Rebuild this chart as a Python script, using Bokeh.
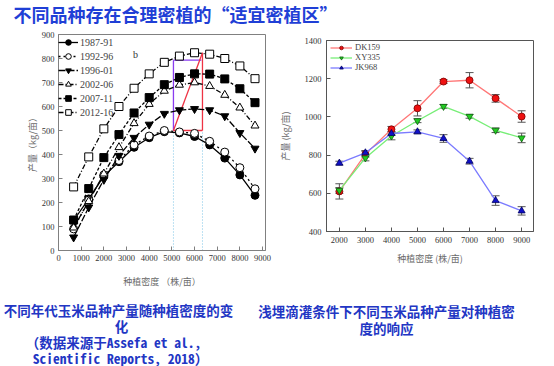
from bokeh.plotting import figure
from bokeh.layouts import column, row
from bokeh.models import (Range1d, Legend, LegendItem, Whisker, TeeHead,
                          ColumnDataSource, FixedTicker)
from bokeh.core.properties import value
from bokeh.embed import file_html
from bokeh.resources import INLINE

# ---------------- data ----------------
page_title = "不同品种存在合理密植的“适宜密植区”"

# left panel (Assefa et al. 2018)
density_left = [667, 1333, 2000, 2667, 3333, 4000, 4667, 5333, 6000, 6667, 7333, 8000, 8667]
era_labels = ["1987-91", "1992-96", "1996-01", "2002-06", "2007-11", "2012-16"]
y1987 = [125, 215, 310, 370, 430, 470, 495, 490, 475, 440, 385, 315, 230]
y1992 = [90, 210, 315, 375, 440, 477, 500, 494, 488, 455, 410, 345, 257]
y1996 = [55, 180, 295, 395, 470, 525, 570, 585, 590, 585, 560, 490, 425]
y2002 = [95, 205, 320, 430, 530, 610, 665, 690, 700, 685, 648, 595, 520]
y2007 = [127, 258, 387, 483, 573, 637, 691, 721, 736, 735, 715, 674, 616]
y2012 = [265, 390, 507, 600, 676, 736, 784, 810, 824, 818, 800, 769, 716]
left_xticks = [0, 1000, 2000, 3000, 4000, 5000, 6000, 7000, 8000, 9000]
left_yticks = [0, 100, 200, 300, 400, 500, 600, 700, 800, 900]
zone_x = [5070, 6350]
zone_y = [500, 793, 824]
panel_tag = "b"

# right panel
density_right = [2000, 3000, 4000, 5000, 6000, 7000, 8000, 9000]
dk159 = [610, 805, 935, 1045, 1185, 1192, 1097, 1002]
dk159_err = [40, 15, 15, 40, 10, 40, 20, 30]
xy335 = [615, 785, 900, 980, 1055, 1003, 930, 890]
xy335_err = [15, 15, 20, 10, 10, 10, 12, 25]
jk968 = [758, 812, 913, 922, 887, 768, 562, 508]
jk968_err = [10, 12, 10, 10, 20, 15, 25, 22]
right_xticks = [2000, 3000, 4000, 5000, 6000, 7000, 8000, 9000]
right_yticks = [400, 600, 800, 1000, 1200, 1400]

caption_left = ["不同年代玉米品种产量随种植密度的变", "化",
                "（数据来源于Assefa et al.,", "Scientific Reports, 2018）"]
caption_right = ["浅埋滴灌条件下不同玉米品种产量对种植密", "度的响应"]

BLUE = "#1f3fd6"
CAP_BLUE = "#2236c4"
CJK = "Noto Sans CJK SC"
SERIF = "Liberation Serif"


def text_fig(w, h, y0):
    f = figure(width=w, height=h, x_range=Range1d(0, w), y_range=Range1d(y0 + h, y0),
               x_axis_type=None, y_axis_type=None, toolbar_location=None,
               output_backend="svg", min_border=0, frame_align=False)
    f.grid.visible = False
    f.outline_line_color = None
    return f


def style_axes(p, xticks, yticks, xl, yl, xstand, ystand, xlab_st, ylab_st, outline):
    p.xaxis.ticker = FixedTicker(ticks=xticks)
    p.yaxis.ticker = FixedTicker(ticks=yticks)
    p.grid.visible = False
    p.outline_line_color = outline
    p.outline_line_width = 1
    for ax in (p.xaxis[0], p.yaxis[0]):
        ax.axis_line_color = outline
        ax.major_tick_line_color = outline
        ax.major_tick_in = 4
        ax.major_tick_out = 0
        ax.minor_tick_line_color = None
        ax.major_label_text_font = SERIF
        ax.major_label_text_font_size = "8.5px"
        ax.major_label_text_color = "#333333"
        ax.axis_label_text_font = CJK
        ax.axis_label_text_font_size = "9px"
        ax.axis_label_text_font_style = "normal"
        ax.axis_label_text_color = "#6a6a6a"
    p.xaxis.axis_label = xl
    p.yaxis.axis_label = yl
    p.xaxis.major_label_standoff = xstand
    p.yaxis.major_label_standoff = ystand
    p.xaxis.axis_label_standoff = xlab_st
    p.yaxis.axis_label_standoff = ylab_st


# ---------------- title ----------------
t = text_fig(554, 30, 0)
t.text(x=[13], y=[13], text=[page_title], text_font=value(CJK), text_font_size="18px",
       text_font_style="bold", text_color=BLUE, text_baseline="middle", text_align="left")

# ---------------- left chart ----------------
p1 = figure(width=275, height=260, x_range=Range1d(0, 9130), y_range=Range1d(0, 900),
            min_border_left=58, min_border_right=10, min_border_top=4, min_border_bottom=36,
            toolbar_location=None, output_backend="svg", frame_align=False)
style_axes(p1, left_xticks, left_yticks, "种植密度 （株/亩）", "产量（kg/亩）", 4, 4, 11, 0, "#808080")

# zone annotations
p1.segment(x0=zone_x, y0=[0, 0], x1=zone_x, y1=[zone_y[0], zone_y[0]],
           line_color="#7cc4e6", line_dash="1 2", line_width=1)
p1.segment(x0=[zone_x[0], zone_x[0]], y0=[zone_y[0], zone_y[1]],
           x1=[zone_x[0], zone_x[1] - 50], y1=[zone_y[1], zone_y[1]],
           line_color="#8a3cf0", line_width=1.3)
p1.segment(x0=[zone_x[0], zone_x[1], zone_x[0]], y0=[zone_y[0], zone_y[0], zone_y[0]],
           x1=[zone_x[1], zone_x[1], zone_x[1]], y1=[zone_y[0], zone_y[2], zone_y[2]],
           line_color="#ee3344", line_width=1.3)

series = [
    (y1987, "solid", "circle", "black"),
    (y1992, "2 3", "circle", "white"),
    (y1996, "7 2", "inverted_triangle", "black"),
    (y2002, "5 2 1 2", "triangle", "white"),
    (y2007, "3 2", "square", "black"),
    (y2012, "5 2 1 2", "square", "white"),
]
items = []
for lab, (ys, dash, mk, fill) in zip(era_labels, series):
    lr = p1.line(density_left, ys, line_color="black", line_width=1.3, line_dash=dash)
    sr = p1.scatter(density_left, ys, marker=mk, size=8, fill_color=fill, line_color="black",
                    line_width=1)
    items.append(LegendItem(label=lab, renderers=[lr, sr]))
leg1 = Legend(items=items, location=(0, 131), background_fill_alpha=0, border_line_color=None,
              label_text_font=SERIF, label_text_font_size="10px", label_height=14,
              glyph_height=14, glyph_width=20, spacing=0, padding=3, margin=0, label_standoff=2)
p1.add_layout(leg1)
p1.text(x=[3400], y=[815], text=[panel_tag], text_font=value(SERIF), text_font_size="10px",
        text_color="#333333", text_baseline="middle", text_align="center")

# ---------------- right chart ----------------
p2 = figure(width=279, height=260, x_range=Range1d(1506, 9456), y_range=Range1d(400, 1400),
            min_border_left=49, min_border_right=21, min_border_top=10, min_border_bottom=59,
            toolbar_location=None, output_backend="svg", frame_align=False)
style_axes(p2, right_xticks, right_yticks, "种植密度 (株/亩)", "产量 (kg/亩)", 5, 5, 6, 10, "#555555")

rseries = [
    ("DK159", dk159, dk159_err, "#ff7777", "circle", "#ee1111", "#7a0000"),
    ("XY335", xy335, xy335_err, "#77ee77", "inverted_triangle", "#22cc22", "#0f5f0f"),
    ("JK968", jk968, jk968_err, "#7b7bff", "triangle", "#1010c8", "#000060"),
]
ritems = []
for lab, ys, err, lc, mk, fc, oc in rseries:
    src = ColumnDataSource(dict(x=density_right, y=ys,
                                up=[a + b for a, b in zip(ys, err)],
                                lo=[a - b for a, b in zip(ys, err)]))
    lr = p2.line("x", "y", source=src, line_color=lc, line_width=1.3)
    w = Whisker(source=src, base="x", upper="up", lower="lo", line_color="#555555", line_width=1,
                upper_head=TeeHead(size=8, line_color="#555555", line_width=1),
                lower_head=TeeHead(size=8, line_color="#555555", line_width=1))
    p2.add_layout(w)
    sr = p2.scatter("x", "y", source=src, marker=mk, size=7, fill_color=fc, line_color=oc,
                    line_width=0.8)
    ritems.append(LegendItem(label=lab, renderers=[lr, sr]))
leg2 = Legend(items=ritems, location=(4, 159), background_fill_alpha=0, border_line_color=None,
              label_text_font=SERIF, label_text_font_size="8.5px", label_height=9,
              label_text_line_height=0.8,
              glyph_height=9, glyph_width=22, spacing=0, padding=1, margin=0, label_standoff=3)
p2.add_layout(leg2)

# ---------------- captions ----------------
cap = text_fig(554, 76, 290)
cap_font = value("Noto Sans Mono CJK SC, Liberation Mono, Noto Sans CJK SC")
cap.text(x=[118, 121], y=[309, 325], text=caption_left[:2], text_font=value(CJK),
         text_font_size="13.5px", text_font_style="bold", text_color=CAP_BLUE,
         text_baseline="middle", text_align="center")
cap.text(x=[113, 120], y=[341, 357], text=caption_left[2:], text_font=cap_font,
         text_font_size="13.5px", text_font_style="bold", text_color=CAP_BLUE,
         text_baseline="middle", text_align="center")
cap.text(x=[386, 386], y=[310, 327], text=caption_right, text_font=value(CJK),
         text_font_size="13.5px", text_font_style="bold", text_color=CAP_BLUE,
         text_baseline="middle", text_align="center")

layout = column(t, row(p1, p2), cap)
open("out.html", "w").write(file_html(layout, INLINE))
